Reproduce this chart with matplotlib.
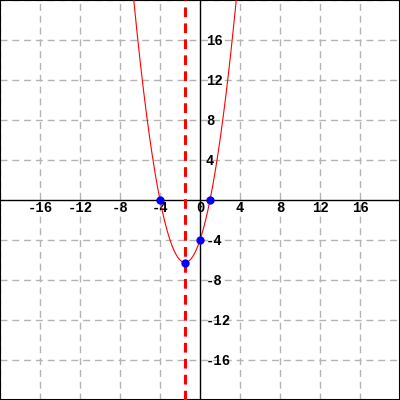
import numpy as np
import matplotlib
matplotlib.use("Agg")
import matplotlib.pyplot as plt

plt.rcParams['lines.scale_dashes'] = False

# Parabola y = a x^2 + b x + c
coef_a, coef_b, coef_c = 1.0, 3.0, -4.0
axis_of_symmetry = -1.5
point_x = [-4, 1, 0, -1.5]
point_y = [0, 0, -4, -6.25]
tick_values = [-16, -12, -8, -4, 4, 8, 12, 16]
grid_values = [-20, -16, -12, -8, -4, 4, 8, 12, 16, 20]

fig = plt.figure(figsize=(4, 4), dpi=100)
ax = fig.add_axes([0, 0, 1, 1])
ax.set_xlim(-20, 20)
ax.set_ylim(-20, 20)
ax.set_xticks([])
ax.set_yticks([])
for s in ax.spines.values():
    s.set_linewidth(1.5)
    s.set_color('black')

gcol = '#b4b4b4'
for g in grid_values:
    ax.axvline(g, color=gcol, lw=1, ls=(0, (5, 3.5)), zorder=1)
    ax.axhline(g, color=gcol, lw=1, ls=(0, (5, 3.5)), zorder=1)

ax.axhline(0, color='black', lw=1, zorder=2)
ax.axvline(0, color='black', lw=1, zorder=2)

font = dict(family='Liberation Mono', weight='bold', size=10)
for t in tick_values:
    ax.text(t, -0.8, str(t), ha='center', va='center', zorder=3, **font)
    ax.text(0.6, t - 0.1, str(t), ha='left', va='center', zorder=3, **font)
ax.text(0, -0.8, '0', ha='center', va='center', zorder=3, **font)

xs = np.linspace(-20, 20, 2001)
ys = coef_a * xs**2 + coef_b * xs + coef_c
ax.plot(xs, ys, color='#ff0000', lw=0.8, zorder=4)

ax.axvline(axis_of_symmetry, color='#ff0000', lw=2.2, ls=(0, (7, 4.5)), zorder=4)

ax.plot(point_x, point_y, 'o', color='#0000ff', markersize=6, markeredgewidth=0, zorder=5)

fig.savefig('out.png', dpi=100)
